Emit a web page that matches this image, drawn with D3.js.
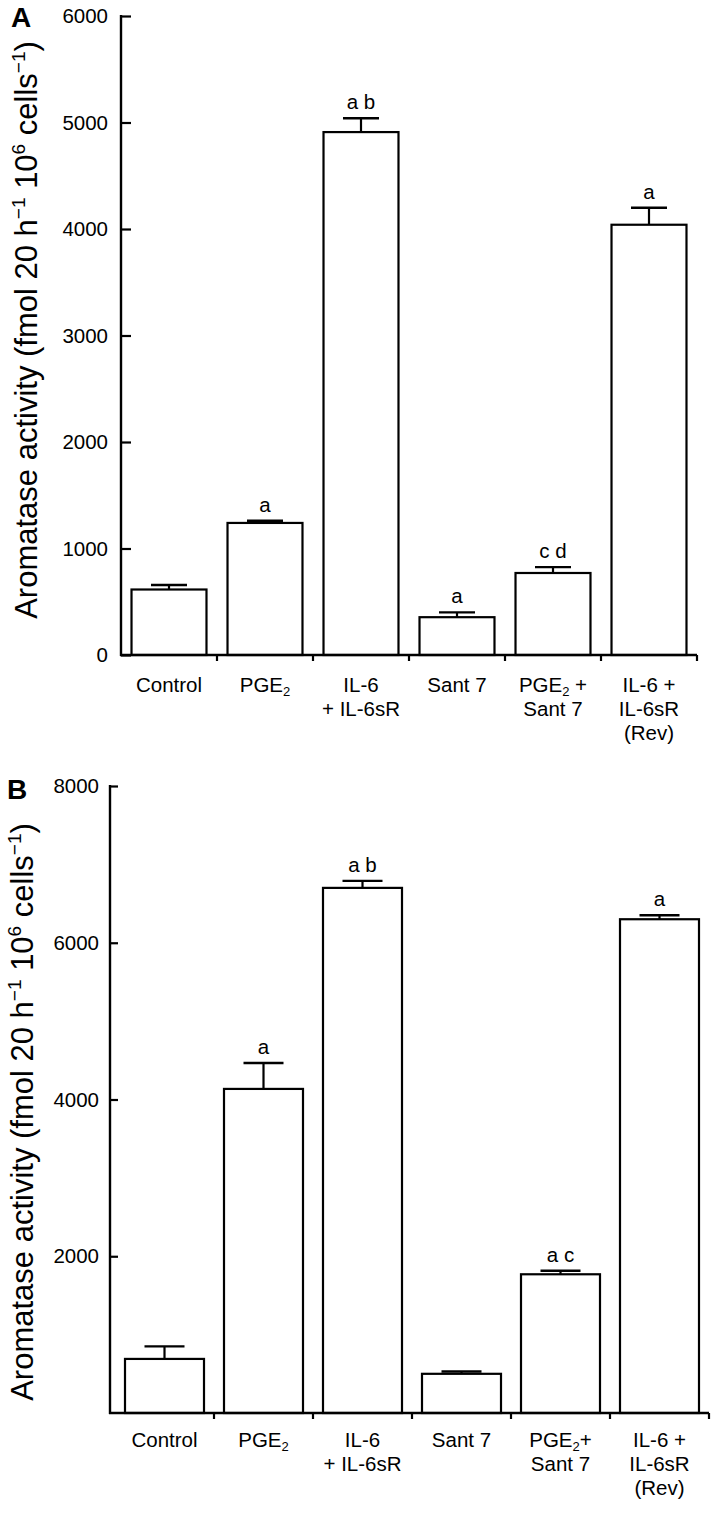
<!DOCTYPE html>
<html><head><meta charset="utf-8">
<script src="https://cdn.jsdelivr.net/npm/d3@7"></script>
<style>
html,body{margin:0;padding:0;background:#fff;}
svg{display:block;font-family:"Liberation Sans",Arial,Helvetica,sans-serif;}
</style></head>
<body>
<svg id="chart" width="713" height="1514"></svg>
<script>
// ---- Data ----
const categories = ["Control","PGE2","IL-6 + IL-6sR","Sant 7","PGE2 + Sant 7","IL-6 + IL-6sR (Rev)"];
const labelLinesA = [
  [["Control"]],
  [["PGE",""],["2","sub"]],
  [["IL-6"]],
  [["Sant 7"]],
  [["PGE",""],["2","sub"],[" +","up"]],
  [["IL-6 +"]]
];
const labelLines2A = [[], [], ["+ IL-6sR"], [], ["Sant 7"], ["IL-6sR","(Rev)"]];
const labelLinesB = [
  [["Control"]],
  [["PGE",""],["2","sub"]],
  [["IL-6"]],
  [["Sant 7"]],
  [["PGE",""],["2","sub"],["+","up"]],
  [["IL-6 +"]]
];
const labelLines2B = [[], [], ["+ IL-6sR"], [], ["Sant 7"], ["IL-6sR","(Rev)"]];

const valuesA = [615, 1240, 4910, 355, 770, 4040];
const errorsA = [42, 20, 130, 45, 55, 160];
const lettersA = ["", "a", "a b", "a", "c d", "a"];
const ticksA = [0, 1000, 2000, 3000, 4000, 5000, 6000];

const valuesB = [690, 4135, 6700, 500, 1770, 6300];
const errorsB = [160, 330, 90, 30, 45, 50];
const lettersB = ["", "a", "a b", "", "a c", "a"];
const ticksB = [2000, 4000, 6000, 8000];

const svg = d3.select("#chart");
const FS = 20.5;

function panel(opt){
  const g = svg.append("g");
  const x = d3.scaleBand().domain(categories).range([opt.bx0, opt.x1])
              .paddingInner(opt.pad).paddingOuter(opt.pad/2);
  const y = d3.scaleLinear().domain([0, opt.ymax]).range([opt.y0, opt.y1]);
  const step = x.step();

  // bars
  g.selectAll("rect.bar").data(categories).enter().append("rect")
    .attr("x", d=>x(d)).attr("width", x.bandwidth())
    .attr("y", (d,i)=>y(opt.values[i]))
    .attr("height", (d,i)=>y(0)-y(opt.values[i]))
    .attr("fill","#fff").attr("stroke","#000").attr("stroke-width",2.2);

  // error bars
  categories.forEach((c,i)=>{
    const cx = x(c)+x.bandwidth()/2;
    const top = y(opt.values[i]+opt.errors[i]);
    g.append("line").attr("x1",cx).attr("x2",cx)
      .attr("y1",y(opt.values[i])).attr("y2",top)
      .attr("stroke","#000").attr("stroke-width",2.2);
    g.append("line").attr("x1",cx-opt.cap/2).attr("x2",cx+opt.cap/2)
      .attr("y1",top).attr("y2",top)
      .attr("stroke","#000").attr("stroke-width",2.4);
    if(opt.letters[i]){
      g.append("text").attr("x",cx).attr("y",top-9)
        .attr("text-anchor","middle").attr("font-size",FS)
        .text(opt.letters[i]);
    }
  });

  // y axis
  const ya = d3.axisLeft(y).tickValues(opt.ticks).tickSize(-opt.tick).tickSizeOuter(0)
              .tickPadding(opt.tickPad).tickFormat(d3.format("d"));
  const yg = g.append("g").attr("transform",`translate(${opt.x0},0)`).call(ya);
  yg.select(".domain").remove();
  yg.selectAll(".tick line").attr("stroke","#000").attr("stroke-width",2.2);
  yg.selectAll(".tick text").attr("font-size",FS).attr("fill","#000")
     .attr("font-family","'Liberation Sans',Arial,sans-serif");
  g.append("line").attr("x1",opt.x0).attr("x2",opt.x0)
    .attr("y1",y(0)+1).attr("y2",y(opt.ymax)-1)
    .attr("stroke","#000").attr("stroke-width",2.4);

  // x axis
  g.append("line").attr("x1",opt.x0-1).attr("x2",opt.x1)
    .attr("y1",y(0)).attr("y2",y(0))
    .attr("stroke","#000").attr("stroke-width",2.4);
  categories.forEach((c,i)=>{
    const bx = x(c)+x.bandwidth()+step*opt.pad/2;
    g.append("line").attr("x1",bx).attr("x2",bx)
      .attr("y1",y(0)).attr("y2",y(0)+6)
      .attr("stroke","#000").attr("stroke-width",2.2);
  });

  // x labels
  categories.forEach((c,i)=>{
    const cx = x(c)+x.bandwidth()/2;
    const t = g.append("text").attr("x",cx).attr("y",y(0)+opt.lab1)
       .attr("text-anchor","middle").attr("font-size",FS);
    opt.lines1[i].forEach(p=>{
      const s = t.append("tspan").text(p[0]);
      if(p[1]==="sub") s.attr("font-size",13).attr("dy",4);
      else if(p[1]==="up") s.attr("dy",-4);
    });
    opt.lines2[i].forEach((l,k)=>{
      g.append("text").attr("x",cx).attr("y",y(0)+opt.lab1+opt.lh*(k+1))
        .attr("text-anchor","middle").attr("font-size",FS).text(l);
    });
  });

  // y title
  const yt = g.append("text")
    .attr("transform",`translate(${opt.titleX},${opt.titleY}) rotate(-90)`)
    .attr("text-anchor","middle").attr("font-size",opt.titleFS);
  const sup = Math.round(opt.titleFS*0.62), sh = Math.round(opt.titleFS*0.38);
  yt.append("tspan").text("Aromatase activity (fmol 20 h");
  yt.append("tspan").text("\u22121").attr("font-size",sup).attr("dy",-sh);
  yt.append("tspan").text(" 10").attr("dy",sh);
  yt.append("tspan").text("6").attr("font-size",sup).attr("dy",-sh);
  yt.append("tspan").text(" cells").attr("dy",sh);
  yt.append("tspan").text("\u22121").attr("font-size",sup).attr("dy",-sh);
  yt.append("tspan").text(")").attr("dy",sh);

  // panel letter
  g.append("text").attr("x",opt.letterX).attr("y",opt.letterY)
    .attr("font-size",28).attr("font-weight","bold").text(opt.letter);
}

panel({x0:121, bx0:121, x1:697, y0:655, y1:16, ymax:6000, pad:0.219,
  values:valuesA, errors:errorsA, letters:lettersA, ticks:ticksA,
  tick:10, tickPad:13, cap:36, lab1:37, lh:24,
  lines1:labelLinesA, lines2:labelLines2A, titleX:37, titleY:330, titleFS:31,
  letter:"A", letterX:11, letterY:27});

panel({x0:110, bx0:115, x1:709, y0:1413, y1:786, ymax:8000, pad:0.202,
  values:valuesB, errors:errorsB, letters:lettersB, ticks:ticksB,
  tick:8, tickPad:11, cap:40, lab1:34, lh:24,
  lines1:labelLinesB, lines2:labelLines2B, titleX:33, titleY:1112, titleFS:31,
  letter:"B", letterX:7, letterY:799});
</script>
</body></html>
